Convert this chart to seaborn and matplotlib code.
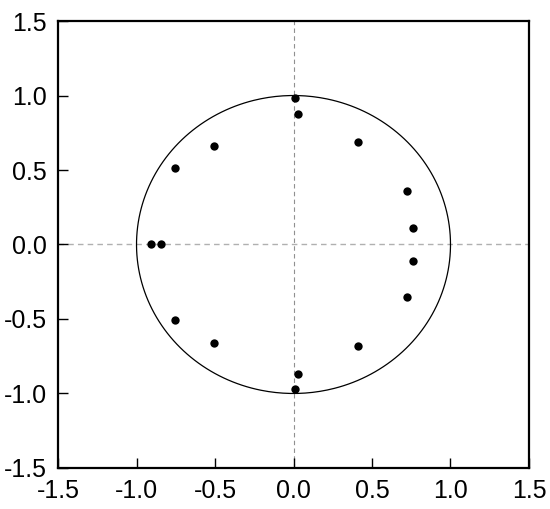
import numpy as np
import matplotlib
matplotlib.use("Agg")
import matplotlib.pyplot as plt
import seaborn as sns

re_vals = [0.01, 0.03, 0.41, 0.72, 0.76, 0.76, 0.72, 0.41, 0.03, 0.01,
           -0.91, -0.845, -0.755, -0.505, -0.755, -0.505]
im_vals = [0.985, 0.875, 0.69, 0.36, 0.11, -0.11, -0.35, -0.68, -0.87, -0.97,
           0.0, 0.0, 0.515, 0.66, -0.51, -0.66]
ticks = [-1.5, -1.0, -0.5, 0.0, 0.5, 1.0, 1.5]

sns.set_style("ticks")
plt.rcParams['font.family'] = ['Liberation Sans', 'DejaVu Sans']

fig = plt.figure(figsize=(5.5, 5.09), dpi=100)
ax = fig.add_axes([0.1055, 0.0806, 0.8563, 0.8781])

# unit circle
t = np.linspace(0, 2 * np.pi, 400)
ax.plot(np.cos(t), np.sin(t), color='black', lw=0.9)

ax.axhline(0, color='#b0b0b0', ls='--', lw=1.0, dashes=(4, 3), zorder=0)
ax.axvline(0, color='#909090', ls='--', lw=0.8, dashes=(4, 3), zorder=0)

sns.scatterplot(x=re_vals, y=im_vals, ax=ax, color='black', s=36,
                edgecolor='black', linewidth=0, zorder=3)

ax.set_xlim(-1.5, 1.5)
ax.set_ylim(-1.5, 1.5)
ax.set_xticks(ticks)
ax.set_yticks(ticks)
ax.set_xticklabels([f"{v:.1f}" for v in ticks], fontsize=18)
ax.set_yticklabels([f"{v:.1f}" for v in ticks], fontsize=18)
ax.tick_params(direction='in', length=7, width=1.0,
               top=False, right=False, colors='black', pad=8)
for sp in ax.spines.values():
    sp.set_linewidth(1.6)
    sp.set_color('black')

fig.savefig("out.png", dpi=100)
